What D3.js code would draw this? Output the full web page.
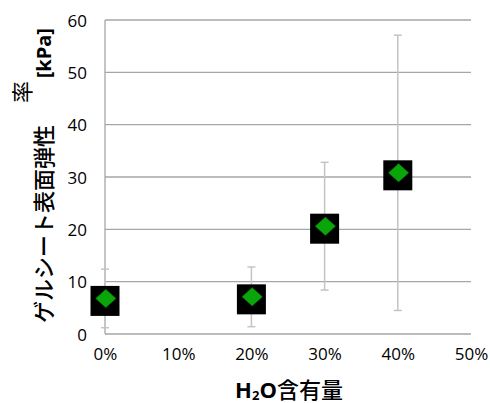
<!DOCTYPE html>
<html><head><meta charset="utf-8">
<script src="https://cdn.jsdelivr.net/npm/d3@7"></script>
<style>body{margin:0;background:#fff}</style>
</head><body>
<script>
const categories = [0, 0.2, 0.3, 0.4];
const values = [6.8, 7.1, 20.6, 30.8];
const errors = [5.6, 5.7, 12.2, 26.3];
const xTicks = [0, 0.1, 0.2, 0.3, 0.4, 0.5];
const yTicks = [0, 10, 20, 30, 40, 50, 60];

const W = 490, H = 403;
const svg = d3.select("body").append("svg").attr("width", W).attr("height", H);
const x = d3.scaleLinear().domain([0, 0.5]).range([105, 471]);
const y = d3.scaleLinear().domain([0, 60]).range([334, 20]);
const grid = "#a6a6a6";
const tickFont = "'Open Sans', sans-serif";
const cjk = "'Noto Sans CJK JP', sans-serif";

// gridlines
svg.append("g").selectAll("line").data(yTicks).join("line")
  .attr("x1", x(0)).attr("x2", x(0.5))
  .attr("y1", d => y(d)).attr("y2", d => y(d))
  .attr("stroke", grid).attr("stroke-width", 1.3);
// left axis line
svg.append("line").attr("x1", x(0)).attr("x2", x(0)).attr("y1", y(0)).attr("y2", y(60))
  .attr("stroke", grid).attr("stroke-width", 1.3);

// y axis labels
const yAxis = d3.axisLeft(y).tickValues(yTicks).tickSize(0).tickPadding(0);
const gy = svg.append("g").attr("transform", "translate(87,0)").call(yAxis);
gy.select(".domain").remove();
gy.selectAll("text").attr("font-family", tickFont).attr("font-size", 17).attr("fill", "#000").attr("dy", "0.36em");

// x axis labels
const xAxis = d3.axisBottom(x).tickValues(xTicks).tickFormat(d3.format(".0%")).tickSize(0).tickPadding(0);
const gx = svg.append("g").attr("transform", "translate(0,348)").call(xAxis);
gx.select(".domain").remove();
gx.selectAll("text").attr("font-family", tickFont).attr("font-size", 17).attr("fill", "#000").attr("dy", "0.71em");

// error bars
const eg = svg.append("g").attr("stroke", "#c4c4c4").attr("stroke-width", 1.5);
categories.forEach((c, i) => {
  const cx = x(c), top = y(values[i] + errors[i]), bot = y(values[i] - errors[i]);
  eg.append("line").attr("x1", cx).attr("x2", cx).attr("y1", top).attr("y2", bot);
  eg.append("line").attr("x1", cx - 4).attr("x2", cx + 4).attr("y1", top).attr("y2", top);
  eg.append("line").attr("x1", cx - 4).attr("x2", cx + 4).attr("y1", bot).attr("y2", bot);
});

// markers
const mg = svg.append("g");
mg.selectAll("rect").data(categories).join("rect")
  .attr("x", d => x(d) - 14.5).attr("y", (d, i) => y(values[i]) - 12.5)
  .attr("width", 29).attr("height", 30).attr("fill", "#000");
mg.selectAll("path").data(categories).join("path")
  .attr("d", (d, i) => {
    const cx = x(d) + 0.8, cy = y(values[i]);
    return `M${cx},${cy - 9}L${cx + 10},${cy}L${cx},${cy + 9}L${cx - 10},${cy}Z`;
  })
  .attr("fill", "#0aa50a").attr("stroke", "#078a07").attr("stroke-width", 0.8);

// x title
const xt = svg.append("text").attr("x", 289).attr("y", 398).attr("text-anchor", "middle")
  .attr("font-family", cjk).attr("font-size", 22).attr("fill", "#000");
xt.append("tspan").attr("font-family", tickFont).attr("font-weight", "bold").text("H");
xt.append("tspan").attr("font-family", tickFont).attr("font-weight", "bold").attr("font-size", 13).attr("dy", 2).text("2");
xt.append("tspan").attr("font-family", tickFont).attr("font-weight", "bold").attr("dy", -2).text("O");
xt.append("tspan").attr("font-weight", 500).text("含有量");

// y title
svg.append("text").attr("transform", "translate(52,323) rotate(-90)")
  .attr("font-family", cjk).attr("font-size", 22).attr("font-weight", 500).attr("fill", "#000")
  .text("ゲルシート表面弾性");
svg.append("text").attr("transform", "translate(51,28) rotate(-90)").attr("text-anchor", "end")
  .attr("font-family", tickFont).attr("font-weight", "bold").attr("font-size", 20).attr("fill", "#000")
  .text("[kPa]");
svg.append("text").attr("transform", "translate(30,92) rotate(-90)").attr("text-anchor", "middle")
  .attr("font-family", cjk).attr("font-size", 22).attr("fill", "#000")
  .text("率");
</script>
</body></html>
